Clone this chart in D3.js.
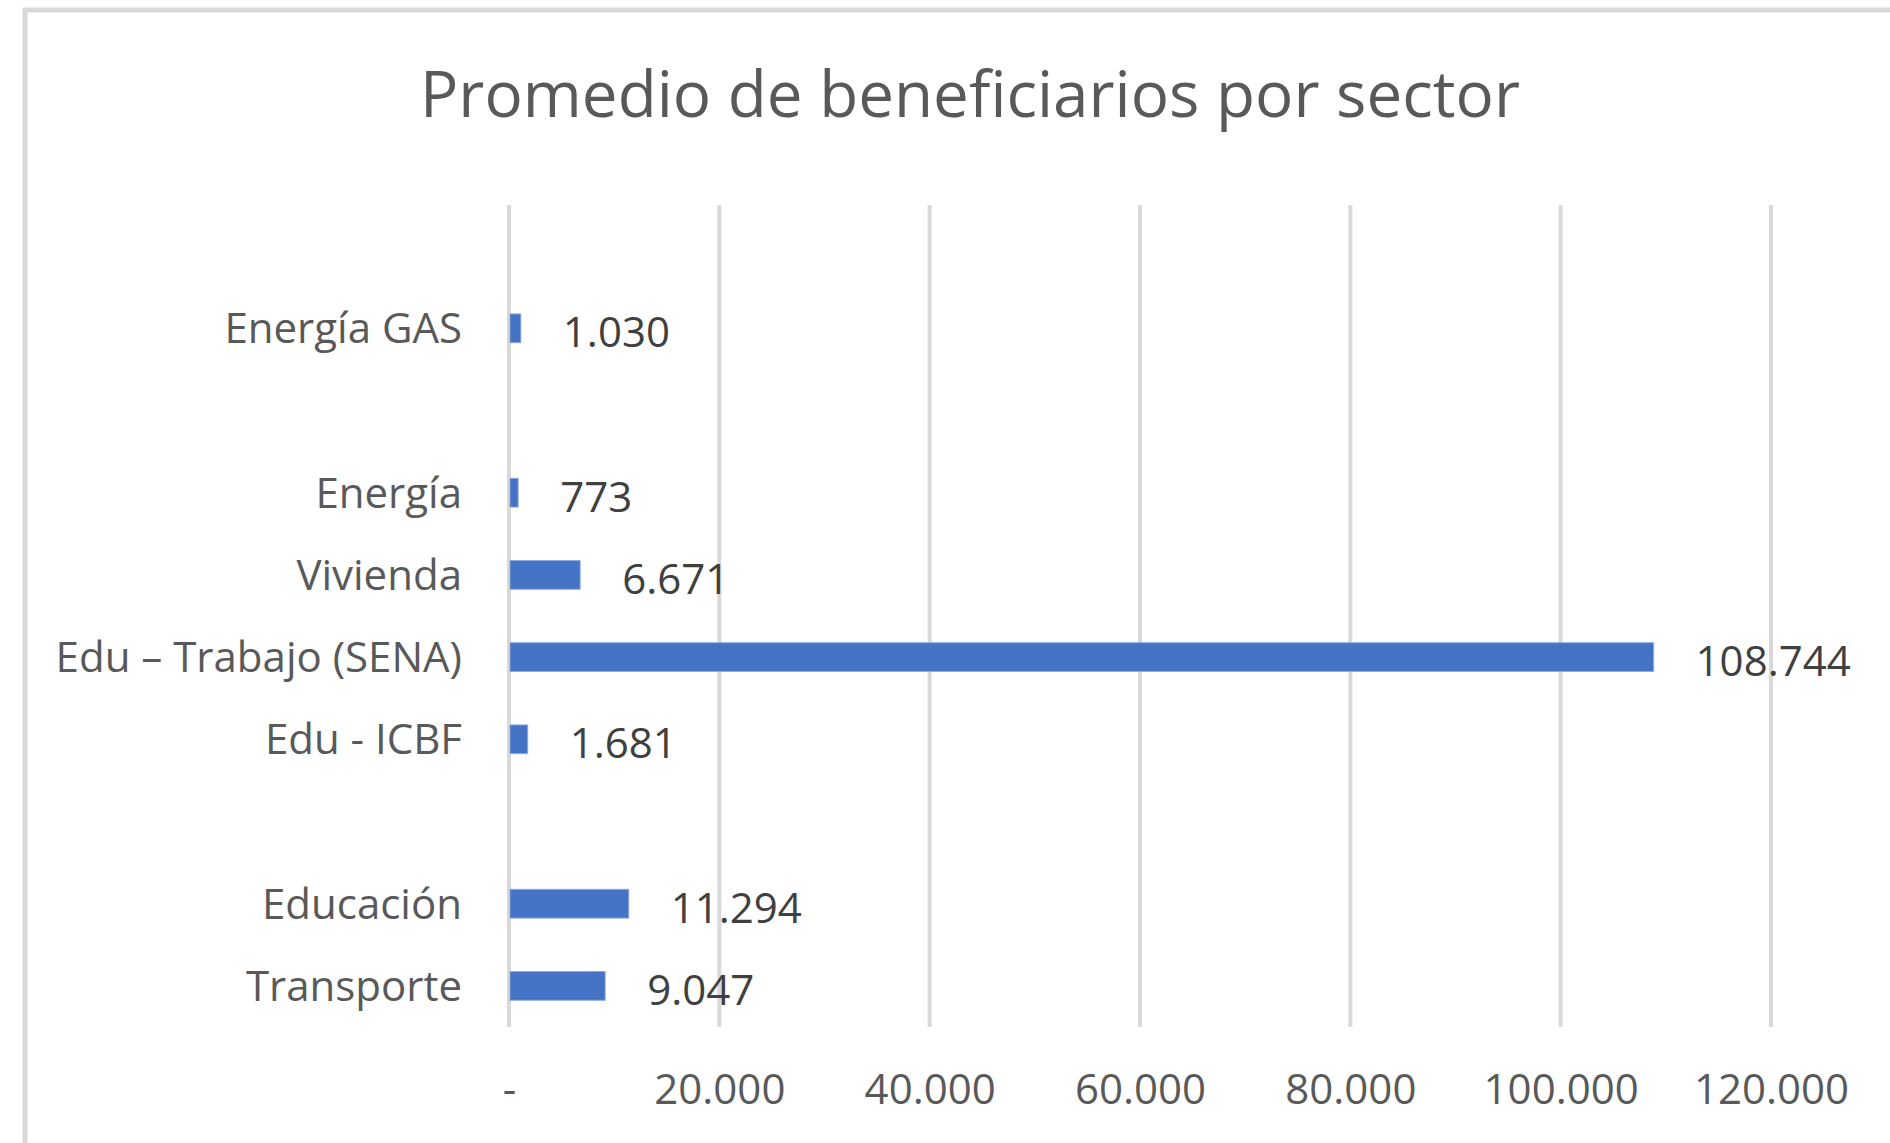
<!DOCTYPE html>
<html>
<head>
<meta charset="utf-8">
<script src="https://cdn.jsdelivr.net/npm/d3@7"></script>
<style>
  body { margin: 0; background: #fff; }
  text { font-family: "Open Sans", "Noto Sans", sans-serif; }
</style>
</head>
<body>
<script>
// categories top to bottom, empty strings are blank slots in the original chart
var sectors = ["", "Energía GAS", "", "Energía", "Vivienda", "Edu – Trabajo (SENA)", "Edu - ICBF", "", "Educación", "Transporte"];
var beneficiaries = [null, 1030, null, 773, 6671, 108744, 1681, null, 11294, 9047];
var xTicks = [0, 20000, 40000, 60000, 80000, 100000, 120000];
var chartTitle = "Promedio de beneficiarios por sector";

var width = 1890, height = 1143;
var margin = { top: 205, right: 119, bottom: 116, left: 509 };

var svg = d3.select("body").append("svg")
  .attr("width", width)
  .attr("height", height);

// chart frame
svg.append("rect")
  .attr("x", 25)
  .attr("y", 10)
  .attr("width", width)
  .attr("height", height)
  .attr("fill", "#fff")
  .attr("stroke", "#d9d9d9")
  .attr("stroke-width", 5);

var es = d3.formatLocale({ decimal: ",", thousands: ".", grouping: [3], currency: ["$", ""] });
var fmt = es.format(",d");

var xScale = d3.scaleLinear()
  .domain([0, 120000])
  .range([margin.left, width - margin.right]);

var yScale = d3.scaleBand()
  .domain(d3.range(sectors.length))
  .range([margin.top, height - margin.bottom])
  .paddingInner(0.65)
  .paddingOuter(0.325);

// gridlines
svg.append("g")
  .selectAll("line")
  .data(xTicks)
  .enter()
  .append("line")
    .attr("x1", d => xScale(d))
    .attr("x2", d => xScale(d))
    .attr("y1", margin.top)
    .attr("y2", height - margin.bottom)
    .attr("stroke", "#d9d9d9")
    .attr("stroke-width", 4);

// x axis labels
var xAxis = svg.append("g")
  .attr("transform", `translate(0, ${height - margin.bottom})`)
  .call(d3.axisBottom(xScale).tickValues(xTicks).tickSize(0).tickFormat(d => d === 0 ? "-" : fmt(d)));
xAxis.select(".domain").remove();
xAxis.selectAll("text")
  .attr("y", 77)
  .attr("dy", 0)
  .attr("fill", "#595959")
  .style("font-size", "42px");

// y axis labels
var yAxis = svg.append("g")
  .attr("transform", `translate(${margin.left}, 0)`)
  .call(d3.axisLeft(yScale).tickSize(0).tickPadding(47).tickFormat(i => sectors[i]));
yAxis.select(".domain").remove();
yAxis.selectAll("text")
  .attr("dy", "0.36em")
  .attr("fill", "#595959")
  .style("font-size", "42px");

var rows = sectors.map((s, i) => ({ i: i, name: s, value: beneficiaries[i] }))
  .filter(d => d.value !== null);

// bars
svg.append("g")
  .selectAll("rect")
  .data(rows)
  .enter()
  .append("rect")
    .attr("x", xScale(0) + 1)
    .attr("y", d => yScale(d.i))
    .attr("width", d => xScale(d.value) - xScale(0))
    .attr("height", yScale.bandwidth())
    .attr("fill", "#4472c4")
    .attr("stroke", "#8eaadb")
    .attr("stroke-width", 1);

// value labels
svg.append("g")
  .selectAll("text")
  .data(rows)
  .enter()
  .append("text")
    .attr("x", d => xScale(d.value) + 43)
    .attr("y", d => yScale(d.i) + yScale.bandwidth() / 2 + 4)
    .attr("dy", "0.36em")
    .attr("fill", "#404040")
    .style("font-size", "42px")
    .text(d => fmt(d.value));

// title
svg.append("text")
  .attr("x", 970)
  .attr("y", 117)
  .attr("text-anchor", "middle")
  .attr("fill", "#595959")
  .attr("textLength", 1100)
  .attr("lengthAdjust", "spacingAndGlyphs")
  .style("font-size", "64px")
  .text(chartTitle);
</script>
</body>
</html>
